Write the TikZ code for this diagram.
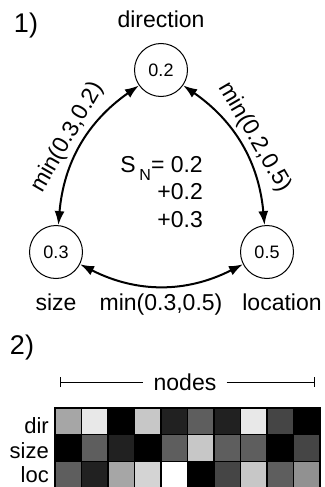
\documentclass[tikz,border=0pt]{standalone}
\usepackage{fontspec}
\setmainfont{Liberation Sans}
\usetikzlibrary{positioning,arrows.meta}

\begin{document}
\begin{tikzpicture}[x=1pt,y=1pt]
  	\tikzstyle{var} = [circle,draw,line width=1pt,minimum size=53pt,inner sep=0pt,font=\fontsize{18}{20}\selectfont]
  	\tikzstyle{lbl} = [inner sep=0pt,font=\fontsize{23}{27.5}\selectfont]
  	\tikzstyle{part} = [inner sep=0pt,font=\fontsize{27}{30}\selectfont]
  	\tikzstyle{rowlbl} = [inner sep=0pt,anchor=base east,font=\fontsize{22}{24}\selectfont]
  	\tikzstyle{link} = [<->,line width=2pt]
  	\tikzstyle{cell} = [draw=black,line width=1.5pt]
  	\tikzset{>={Latex[length=14pt,width=10pt]}}

	  \useasboundingbox (0,0) rectangle (324,-487);

	  % 1) the three variables
	  \node [part] (one) at (26,-26) {1)};
	  \node [var] (dir) at (161,-70) {0.2};
	  \node [var] (size) at (56,-252) {0.3};
	  \node [var] (loc) at (267,-252) {0.5};

	  \node [lbl, above=15pt of dir] (dirlbl) {direction};
	  \node [lbl, below=15pt of size] (sizelbl) {size};
	  \node [lbl, below=15pt of loc, xshift=15pt] (loclbl) {location};
	  \node [lbl, anchor=base] (minsl) at (161,-310) {min(0.3,0.5)};

	  \node [lbl, align=right, anchor=north east] (sum) at (203,-156)
	    {S\,\raisebox{-0.35em}{\fontsize{16}{18}\selectfont N}= 0.2\\+0.2\\+0.3};

		\draw [link] (size) to[bend left=25] node[lbl, sloped, above=4pt] {min(0.3,0.2)} (dir);
		\draw [link] (dir) to[bend left=25] node[lbl, sloped, above=4pt] {min(0.2,0.5)} (loc);
		\draw [link] (size) to[bend right=27] (loc);

	  % 2) values per node
	  \node [part] (two) at (22,-348) {2)};
	  \node [lbl, inner xsep=10pt] (nodes) at (185,-382) {nodes};
	  \coordinate (nl) at (60,-382);
	  \coordinate (nr) at (315,-382);
	  \draw [{Bar[width=10pt]}-, line width=1pt] (nl) -- (nodes);
	  \draw [-{Bar[width=10pt]}, line width=1pt] (nodes) -- (nr);

	  \node [rowlbl] (rdir) at (49,-433) {dir};
	  \node [rowlbl] (rsize) at (49,-458) {size};
	  \node [rowlbl] (rloc) at (49,-482) {loc};

	  \foreach \vals [count=\r] in {{65,91,0,78,13,37,13,91,27,0},{0,37,13,0,37,78,37,37,0,27},{37,13,65,83,100,0,27,78,37,57}}
	    \foreach \v [count=\c] in \vals
	      \draw [cell, fill=white!\v!black] ({55+26.5*(\c-1)},{-408-26.7*(\r-1)}) rectangle ++(26.5,-26.7);
  \end{tikzpicture}
\end{document}
